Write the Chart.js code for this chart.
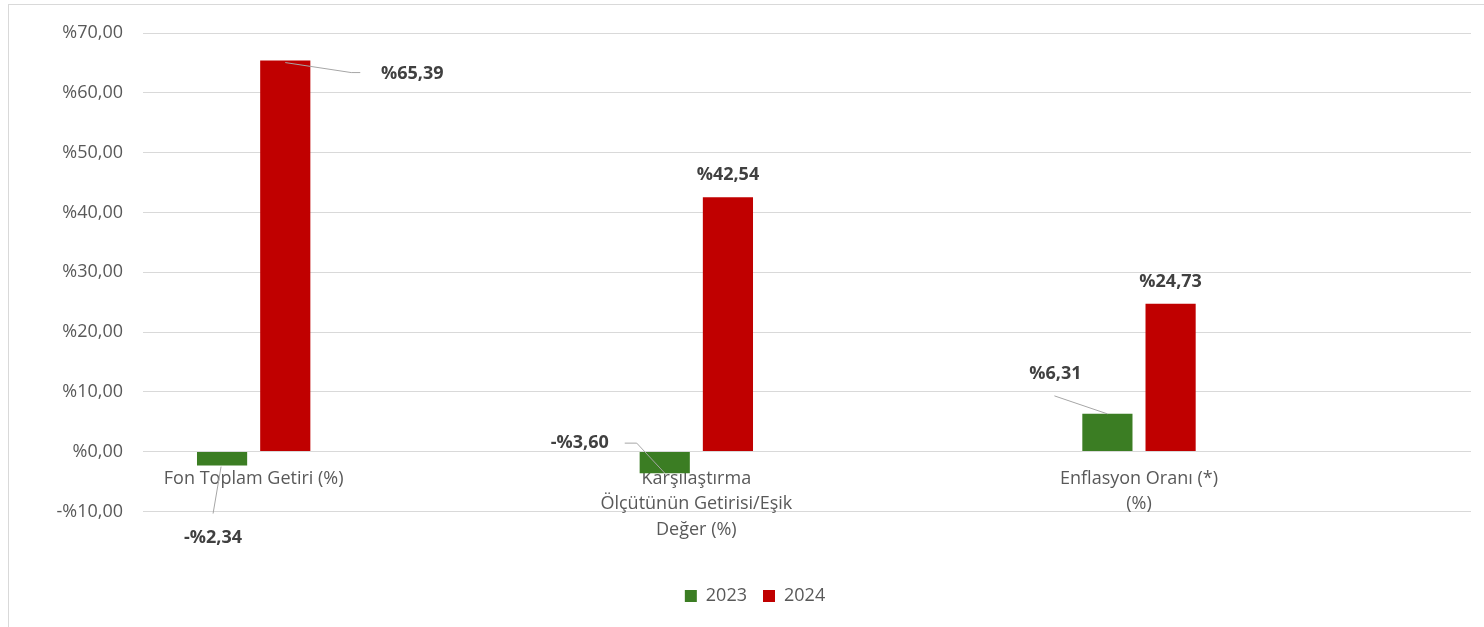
<!DOCTYPE html>
<html lang="tr">
<head>
    <meta charset="UTF-8">
    <title>Getiri Karşılaştırması</title>
    <script src="https://cdn.jsdelivr.net/npm/chart.js"></script>
    <style>
        html, body { margin: 0; padding: 0; background: #ffffff; overflow: hidden; }
        .frame {
            position: absolute;
            left: 8px;
            top: 4px;
            width: 1540px;
            height: 660px;
            border: 1px solid #d9d9d9;
        }
        canvas { position: absolute; left: 0; top: 0; }
    </style>
</head>
<body>
    <div class="frame">
        <canvas id="chart" width="1509" height="622"></canvas>
    </div>

    <script>
        // categories (empty slots sit between the three groups, as in the original sheet)
        const categories = [
            'Fon Toplam Getiri (%)',
            '',
            ['Karşılaştırma', 'Ölçütünün Getirisi/Eşik', 'Değer (%)'],
            '',
            ['Enflasyon Oranı (*)', '(%)'],
            ''
        ];
        const seriesNames = ['2023', '2024'];
        const values2023 = [-2.34, null, -3.60, null, 6.31, null];
        const values2024 = [65.39, null, 42.54, null, 24.73, null];
        const yTicks = { min: -10, max: 70, step: 10 };

        const green = '#3b7d23';
        const red = '#c00000';
        const fontFamily = "'Open Sans', 'Noto Sans', sans-serif";

        function pct(v) {
            const s = '%' + Math.abs(v).toFixed(2).replace('.', ',');
            return v < 0 ? '-' + s : s;
        }

        // where each value label sits, relative to the end of its bar
        const labelPlace = {
            '0-0': { tx: -9, ty: 72, lead: [[-1, 1], [-9, 48]] },
            '0-2': { tx: -85, ty: -30, lead: [[0, 0], [-28, -30], [-40, -30]] },
            '0-4': { tx: -52, ty: -40, lead: [[0, 0], [-53, -18]] },
            '1-0': { tx: 127, ty: 13, lead: [[0, 2], [66, 12], [75, 12]] },
            '1-2': { tx: 0, ty: -22 },
            '1-4': { tx: 0, ty: -22 }
        };

        const valueLabels = {
            id: 'valueLabels',
            afterDatasetsDraw(chart) {
                const ctx = chart.ctx;
                ctx.save();
                chart.data.datasets.forEach((ds, di) => {
                    const meta = chart.getDatasetMeta(di);
                    meta.data.forEach((bar, i) => {
                        const v = ds.data[i];
                        if (v === null) return;
                        const p = labelPlace[di + '-' + i] || { tx: 0, ty: -22 };
                        const ax = bar.x, ay = bar.y;
                        if (p.lead) {
                            ctx.beginPath();
                            ctx.strokeStyle = '#a6a6a6';
                            ctx.lineWidth = 1;
                            p.lead.forEach((pt, k) => {
                                if (k === 0) ctx.moveTo(ax + pt[0], ay + pt[1]);
                                else ctx.lineTo(ax + pt[0], ay + pt[1]);
                            });
                            ctx.stroke();
                        }
                        ctx.font = 'bold 18px ' + fontFamily;
                        ctx.fillStyle = '#404040';
                        ctx.textAlign = 'center';
                        ctx.textBaseline = 'middle';
                        ctx.fillText(pct(v), ax + p.tx, ay + p.ty);
                    });
                });
                ctx.restore();
            }
        };

        Chart.defaults.font.family = fontFamily;
        Chart.defaults.color = '#595959';

        const chart = new Chart(document.getElementById('chart').getContext('2d'), {
            type: 'bar',
            data: {
                labels: categories,
                datasets: [
                    {
                        label: seriesNames[0],
                        data: values2023,
                        backgroundColor: green,
                        categoryPercentage: 0.571,
                        barPercentage: 0.794
                    },
                    {
                        label: seriesNames[1],
                        data: values2024,
                        backgroundColor: red,
                        categoryPercentage: 0.571,
                        barPercentage: 0.794
                    }
                ]
            },
            options: {
                responsive: false,
                devicePixelRatio: 1,
                animation: false,
                layout: { padding: { top: 28, right: 47, left: 30, bottom: 12 } },
                scales: {
                    x: {
                        position: { y: 0 },
                        grid: { display: false },
                        border: { display: false },
                        ticks: {
                            padding: 6,
                            maxRotation: 0,
                            autoSkip: false,
                            font: { size: 18, lineHeight: 1.42 },
                            color: '#595959'
                        }
                    },
                    y: {
                        min: yTicks.min,
                        max: yTicks.max,
                        grid: { color: '#d9d9d9', lineWidth: 1, drawTicks: false },
                        border: { display: false },
                        ticks: {
                            stepSize: yTicks.step,
                            padding: 20,
                            font: { size: 18 },
                            color: '#595959',
                            callback: v => pct(v)
                        },
                        afterFit(scale) {
                            scale.width = 104;
                            scale.paddingTop = 0;
                            scale.paddingBottom = 0;
                        }
                    }
                },
                plugins: {
                    tooltip: { enabled: false },
                    legend: {
                        position: 'bottom',
                        title: { display: true, text: ' ', font: { size: 18 }, padding: 19 },
                        labels: {
                            boxWidth: 12,
                            boxHeight: 12,
                            padding: 16,
                            font: { size: 18 },
                            color: '#595959'
                        }
                    }
                }
            },
            plugins: [valueLabels]
        });
    </script>
</body>
</html>
